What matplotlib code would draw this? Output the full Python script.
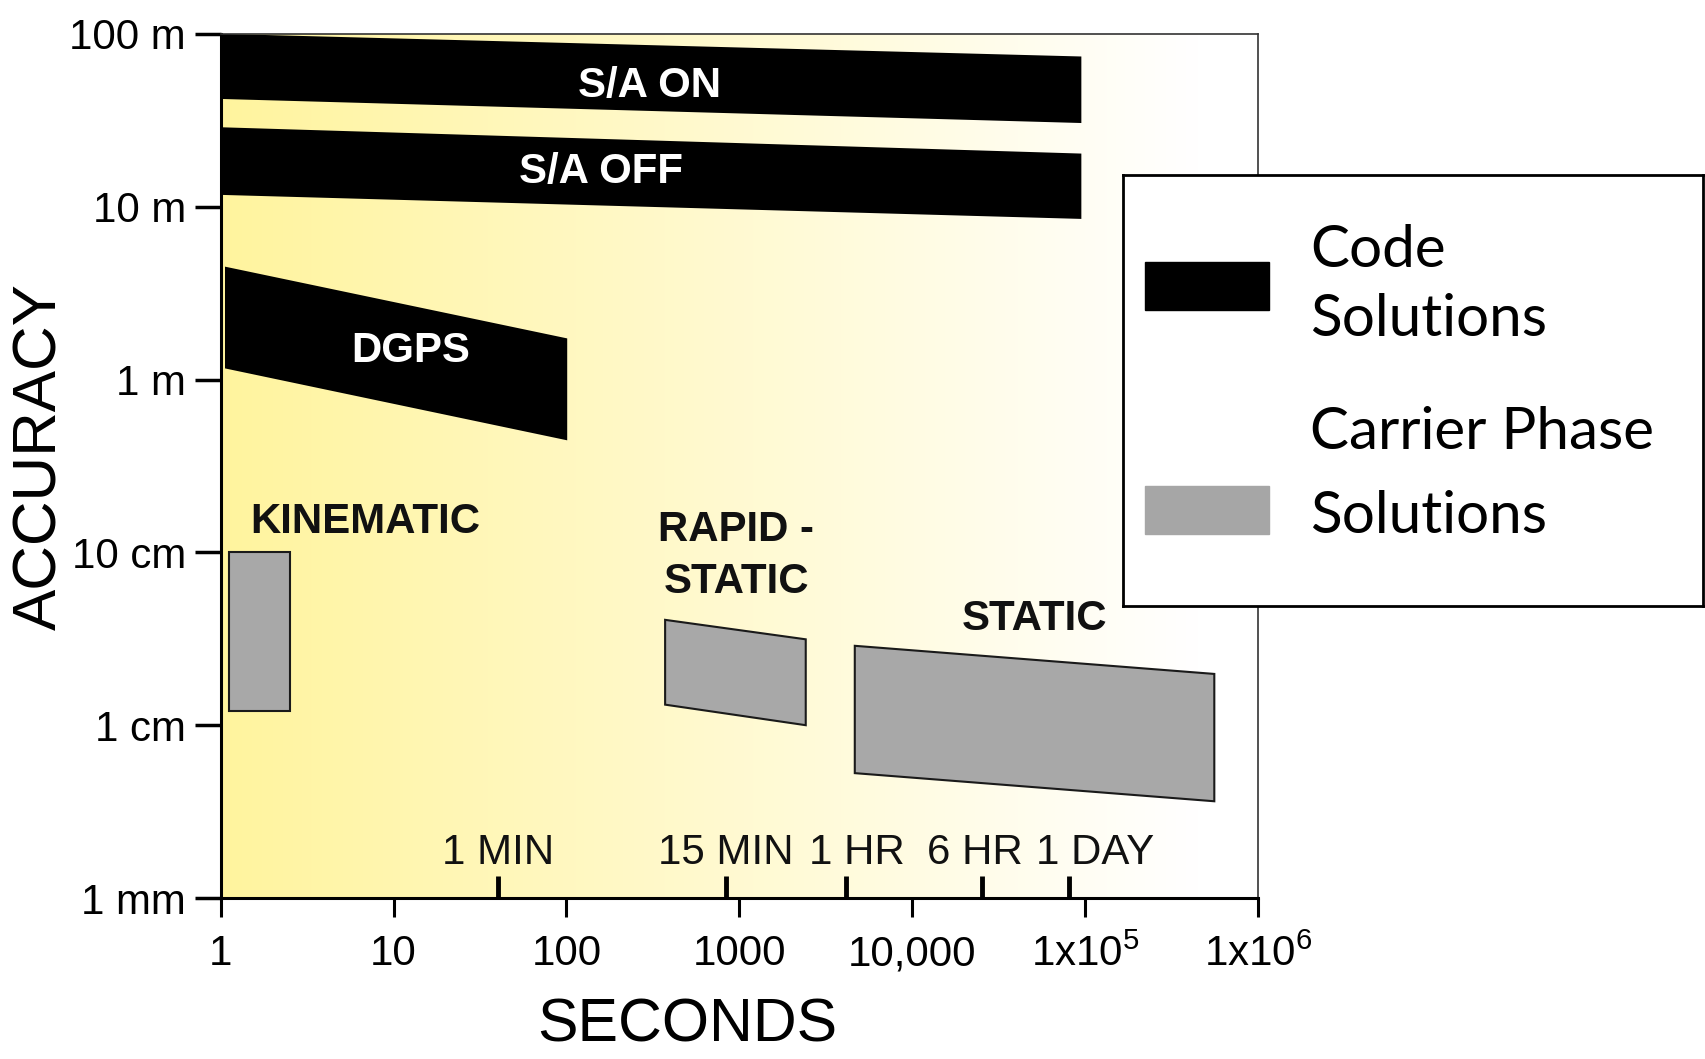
import matplotlib
matplotlib.use('Agg')
import matplotlib.pyplot as plt
import numpy as np
from matplotlib import font_manager
from matplotlib.patches import Rectangle

# polygons: seconds (x) vs accuracy in metres (y)
sa_on_x = [1.03, 95000, 95000, 1.03]
sa_on_y = [100, 74, 30.5, 42]
sa_off_x = [1.03, 95000, 95000, 1.03]
sa_off_y = [28.8, 20.3, 8.5, 11.7]
dgps_x = [1.06, 101, 101, 1.06]
dgps_y = [4.5, 1.73, 0.445, 1.16]
kin_x = [1.12, 2.53, 2.53, 1.12]
kin_y = [0.1, 0.1, 0.0121, 0.0121]
rapid_x = [372, 2420, 2420, 372]
rapid_y = [0.0407, 0.0314, 0.0100, 0.01315]
static_x = [4650, 558000, 558000, 4650]
static_y = [0.0288, 0.0198, 0.00363, 0.00528]

code_labels = ['S/A ON', 'S/A OFF', 'DGPS']
code_label_x = [304, 158, 12.5]
code_label_y = [50, 15.9, 1.46]
phase_labels = ['KINEMATIC', 'RAPID -\nSTATIC', 'STATIC']
phase_label_x = [6.9, 960, 50900]
phase_label_y = [0.150, 0.095, 0.0413]

y_ticks = [1e-3, 1e-2, 1e-1, 1, 10, 100]
y_ticklabels = ['1 mm', '1 cm', '10 cm', '1 m', '10 m', '100 m']
x_ticks = [1, 10, 100, 1000, 1e4, 1e5, 1e6]
x_ticklabels = ['1', '10', '100', '1000', '10,000', '1x10$^5$', '1x10$^6$']

time_names = ['1 MIN', '15 MIN', '1 HR', '6 HR', '1 DAY']
time_secs = [40, 840, 4140, 25400, 81000]
time_label_shift = [0, -1, 11, -7, 26]  # pixels, label vs tick

names = {f.name for f in font_manager.fontManager.ttflist}
if 'Liberation Sans Narrow' in names:
    nfont, k = 'Liberation Sans Narrow', 1.0
else:
    nfont, k = 'Liberation Sans', 0.84
lfont = 'Lato' if 'Lato' in names else 'DejaVu Sans'

plt.rcParams['font.family'] = [nfont, 'DejaVu Sans']
plt.rcParams['mathtext.fontset'] = 'custom'
plt.rcParams['mathtext.rm'] = nfont
plt.rcParams['mathtext.default'] = 'regular'

fig = plt.figure(figsize=(17.05, 10.59), dpi=100)
pos = [0.1294, 0.152, 0.6085, 0.816]

# background gradient (yellow -> white)
bg = fig.add_axes(pos, zorder=0)
t = np.clip(np.linspace(0, 1, 400) / 0.94, 0, 1)
grad = np.zeros((1, 400, 3))
grad[0, :, 0] = 1.0
grad[0, :, 1] = (244 + 11 * t) / 255
grad[0, :, 2] = (158 + 97 * t) / 255
bg.imshow(grad, aspect='auto', extent=[0, 1, 0, 1])
bg.axis('off')

ax = fig.add_axes(pos, zorder=1)
ax.patch.set_alpha(0)
ax.set_xscale('log')
ax.set_yscale('log')
ax.set_xlim(1, 1e6)
ax.set_ylim(1e-3, 100)

for xs, ys in [(sa_on_x, sa_on_y), (sa_off_x, sa_off_y), (dgps_x, dgps_y)]:
    ax.fill(xs, ys, color='black', lw=0)
for xs, ys in [(kin_x, kin_y), (rapid_x, rapid_y), (static_x, static_y)]:
    ax.fill(xs, ys, facecolor='#a8a8a8', edgecolor='#1a1a1a', lw=1.5)

for s, x, y in zip(code_labels, code_label_x, code_label_y):
    ax.text(x, y, s, color='white', fontsize=36 * k, fontweight='bold',
            ha='center', va='center')
for s, x, y in zip(phase_labels, phase_label_x, phase_label_y):
    ax.text(x, y, s, color='#111111', fontsize=36 * k, fontweight='bold',
            ha='center', va='center', linespacing=1.4)

# time marks on the inside of the x axis
ax.vlines(time_secs, 0, 0.026, color='black', lw=3.5,
          transform=ax.get_xaxis_transform())
for s, x, dx in zip(time_names, time_secs, time_label_shift):
    ax.annotate(s, (x, 0.052), xycoords=('data', 'axes fraction'),
                xytext=(dx * 0.72, 0), textcoords='offset points',
                fontsize=36 * k, ha='center', va='center', color='#111111')

ax.set_yticks(y_ticks)
ax.set_yticklabels(y_ticklabels)
ax.set_xticks(x_ticks)
ax.set_xticklabels(x_ticklabels)
ax.minorticks_off()
ax.tick_params(axis='y', length=19, width=2.5, pad=6, labelsize=36 * k)
ax.tick_params(axis='x', length=14, width=2.2, pad=12, labelsize=36 * k)
for sp in ['left', 'bottom']:
    ax.spines[sp].set_linewidth(2.2)
for sp in ['top', 'right']:
    ax.spines[sp].set_linewidth(1.2)
    ax.spines[sp].set_color('#333333')

fig.text(0.024, 0.569, 'ACCURACY', rotation=90, fontsize=53 * k,
         ha='center', va='center')
fig.text(0.403, 0.058, 'SECONDS', fontsize=52 * k, ha='center', va='top')

# legend box
lg = fig.add_axes([0.6588, 0.4278, 0.3400, 0.4069], zorder=3)
lg.set_xlim(0, 1)
lg.set_ylim(0, 1)
lg.set_xticks([])
lg.set_yticks([])
lg.set_facecolor('white')
for sp in lg.spines.values():
    sp.set_linewidth(2)
lg.add_patch(Rectangle((0.0375, 0.687), 0.2135, 0.111, color='black'))
lg.add_patch(Rectangle((0.0375, 0.167), 0.2135, 0.111, color='#a6a6a6'))
for s, y in [('Code', 0.826), ('Solutions', 0.665),
             ('Carrier Phase', 0.402), ('Solutions', 0.207)]:
    lg.text(0.323, y, s, fontsize=42, family=lfont, ha='left', va='center')

fig.savefig('out.png', dpi=100)
